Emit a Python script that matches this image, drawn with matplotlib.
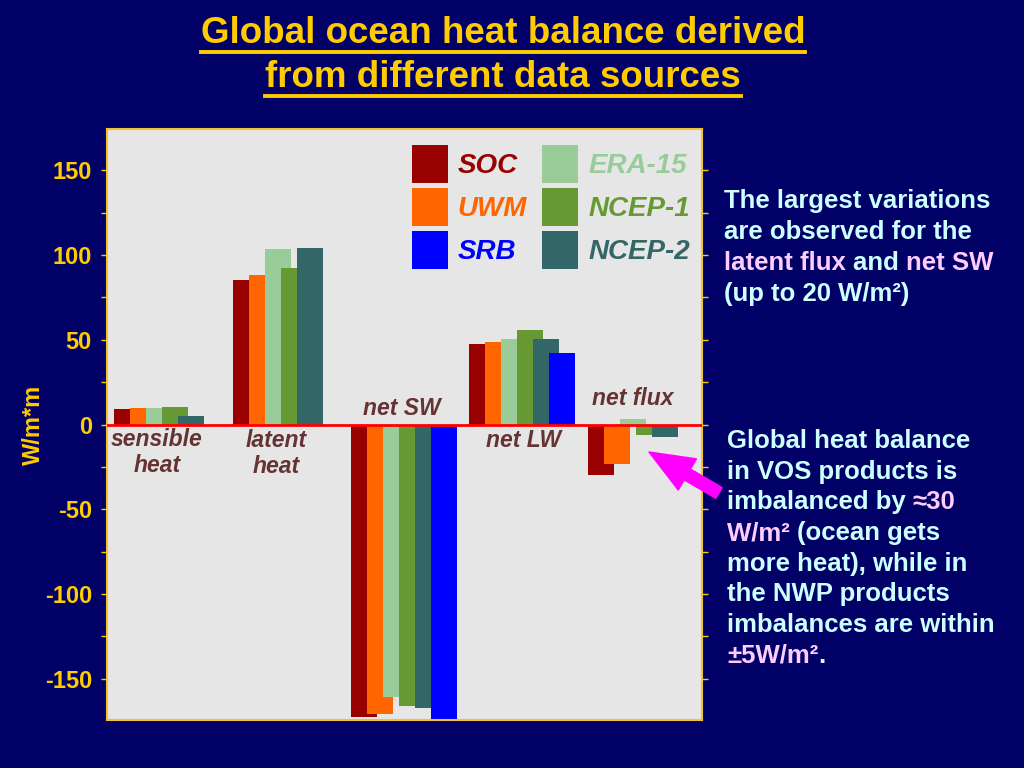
import numpy as np
import matplotlib.pyplot as plt
from matplotlib.lines import Line2D
from matplotlib.font_manager import FontProperties

plt.rcParams['font.family'] = ['Liberation Sans', 'DejaVu Sans']
plt.rcParams['font.weight'] = 'bold'
plt.rcParams['axes.unicode_minus'] = False

# values (W/m2)
categories = ['sensible\nheat', 'latent\nheat', 'net SW', 'net LW', 'net flux']
soc = [9, 85.5, -173, 47.5, -30]
uwm = [10, 88, -171, 49, -23.5]
era15 = [9.5, 103.5, -161, 50.5, 3.5]
ncep1 = [10.5, 92.5, -166.5, 56, -6]
ncep2 = [5, 104, -167.5, 50.5, -7.5]
srb = [np.nan, np.nan, -174, 42, np.nan]

names = ['SOC', 'UWM', 'ERA-15', 'NCEP-1', 'NCEP-2', 'SRB']
colors = ['#990000', '#FF6600', '#99CC99', '#669933', '#336666', '#0000FF']
values = [soc, uwm, era15, ncep1, ncep2, srb]

BG = '#000066'
GOLD = '#FFCC00'
CYAN = '#CCFFFF'
PINK = '#FFCCFF'
W, H = 1024, 768

fig = plt.figure(figsize=(10.24, 7.68), dpi=100, facecolor=BG)
ax = fig.add_axes([107/W, 1-720/H, 595/W, 591/H])
ax.set_facecolor('#E6E6E6')

x = np.arange(len(categories))
step, width, first = 0.1352, 0.22, 0.0626
bars = []
for j, (name, vals, c) in enumerate(zip(names, values, colors)):
    vals = np.array(vals, dtype=float)
    ok = np.isfinite(vals)
    b = ax.bar(x[ok] + first + j*step, vals[ok], width=width, align='edge',
               color=c, label=name, linewidth=0, zorder=2)
    bars.append(b)

ax.axhline(0, color='#FF0000', lw=2, zorder=3)
ax.set_xlim(0, 595/118.3)
ax.set_ylim(-174.5, 174.5)
ax.set_xticks([])
ax.set_yticks(np.arange(-150, 151, 50))
ax.set_yticks(np.arange(-125, 126, 50), minor=True)
ax.tick_params(axis='y', which='both', direction='out', length=4.3, width=1,
               color=GOLD, labelcolor=GOLD, labelsize=17, pad=6.5,
               left=True, right=True)
for s in ax.spines.values():
    s.set_color('#F2C233')
    s.set_linewidth(1.5)
ax.set_ylabel('W/m*m', color=GOLD, fontsize=17, fontweight='bold')
ax.yaxis.set_label_coords(-0.104, 0.5)

# category labels
lab_dx = [0.423, 0.429, 0.494, 0.525, 0.446]
lab_y = [-16.5, -17, 9.4, -9.4, 15.3]
for i, lab in enumerate(categories):
    ax.text(x[i] + lab_dx[i], lab_y[i], lab, ha='center', va='center',
            color='#663333', fontsize=16.5, fontweight='bold', style='italic',
            linespacing=1.15, zorder=4)

# legend: two columns
order = [0, 1, 5, 2, 3, 4]
ax.legend(handles=[bars[k] for k in order], ncol=2, loc='upper right',
          bbox_to_anchor=(0.98, 0.973), frameon=False,
          prop=FontProperties(family=['Liberation Sans', 'DejaVu Sans'],
                              weight='bold', style='italic', size=20),
          labelcolor=[colors[k] for k in order], handlelength=1.3,
          handleheight=1.73, handletextpad=0.36, columnspacing=0.55,
          labelspacing=0.18, borderpad=0, borderaxespad=0)

# pink arrow
ax.annotate('', xy=(649/W, 1-452/H), xycoords='figure fraction',
            xytext=(719/W, 1-493/H), textcoords='figure fraction',
            arrowprops=dict(arrowstyle='simple,head_length=3.2,head_width=2.6,tail_width=0.9',
                            mutation_scale=10, color='#FF00FF', shrinkA=0, shrinkB=0),
            annotation_clip=False, zorder=5)

fig.canvas.draw()
renderer = fig.canvas.get_renderer()


def text_w(s, fp):
    w, h, d = renderer.get_text_width_height_descent(s, fp, ismath=False)
    return w


# title with underline
tfp = FontProperties(family=['Liberation Sans', 'DejaVu Sans'], weight='bold', size=26.5)
for line, base in [('Global ocean heat balance derived', 43),
                   ('from different data sources', 87)]:
    t = fig.text(503/W, 1-base/H, line, ha='center', va='baseline',
                 color=GOLD, fontproperties=tfp)
    bb = t.get_window_extent(renderer)
    fig.add_artist(Line2D([bb.x0/W, bb.x1/W], [1-(base+8.5)/H]*2, color=GOLD, lw=2.8))

# side notes with mixed colours
nfp = FontProperties(family=['Liberation Sans', 'DejaVu Sans'], weight='bold', size=18.5)


def draw_line(x0, y0, segs):
    prefix = ''
    for s, col in segs:
        dx = 0 if not prefix else text_w(prefix + s[0], nfp) - text_w(s[0], nfp)
        fig.text((x0+dx)/W, 1-y0/H, s, color=col, fontproperties=nfp,
                 ha='left', va='baseline')
        prefix += s


note1 = [[('The largest variations', CYAN)],
         [('are observed for the', CYAN)],
         [('latent flux ', PINK), ('and ', CYAN), ('net SW', PINK)],
         [('(up to 20 W/m²)', CYAN)]]
note2 = [[('Global heat balance', CYAN)],
         [('in VOS products is', CYAN)],
         [('imbalanced by ', CYAN), ('≈30', PINK)],
         [('W/m² ', PINK), ('(ocean gets', CYAN)],
         [('more heat), while in', CYAN)],
         [('the NWP products', CYAN)],
         [('imbalances are within', CYAN)],
         [('±5W/m²', PINK), ('.', CYAN)]]
for k, segs in enumerate(note1):
    draw_line(724, 208 + k*31, segs)
for k, segs in enumerate(note2):
    draw_line(727, 448 + k*30.7, segs)

fig.savefig('out.png', dpi=100, facecolor=fig.get_facecolor())
